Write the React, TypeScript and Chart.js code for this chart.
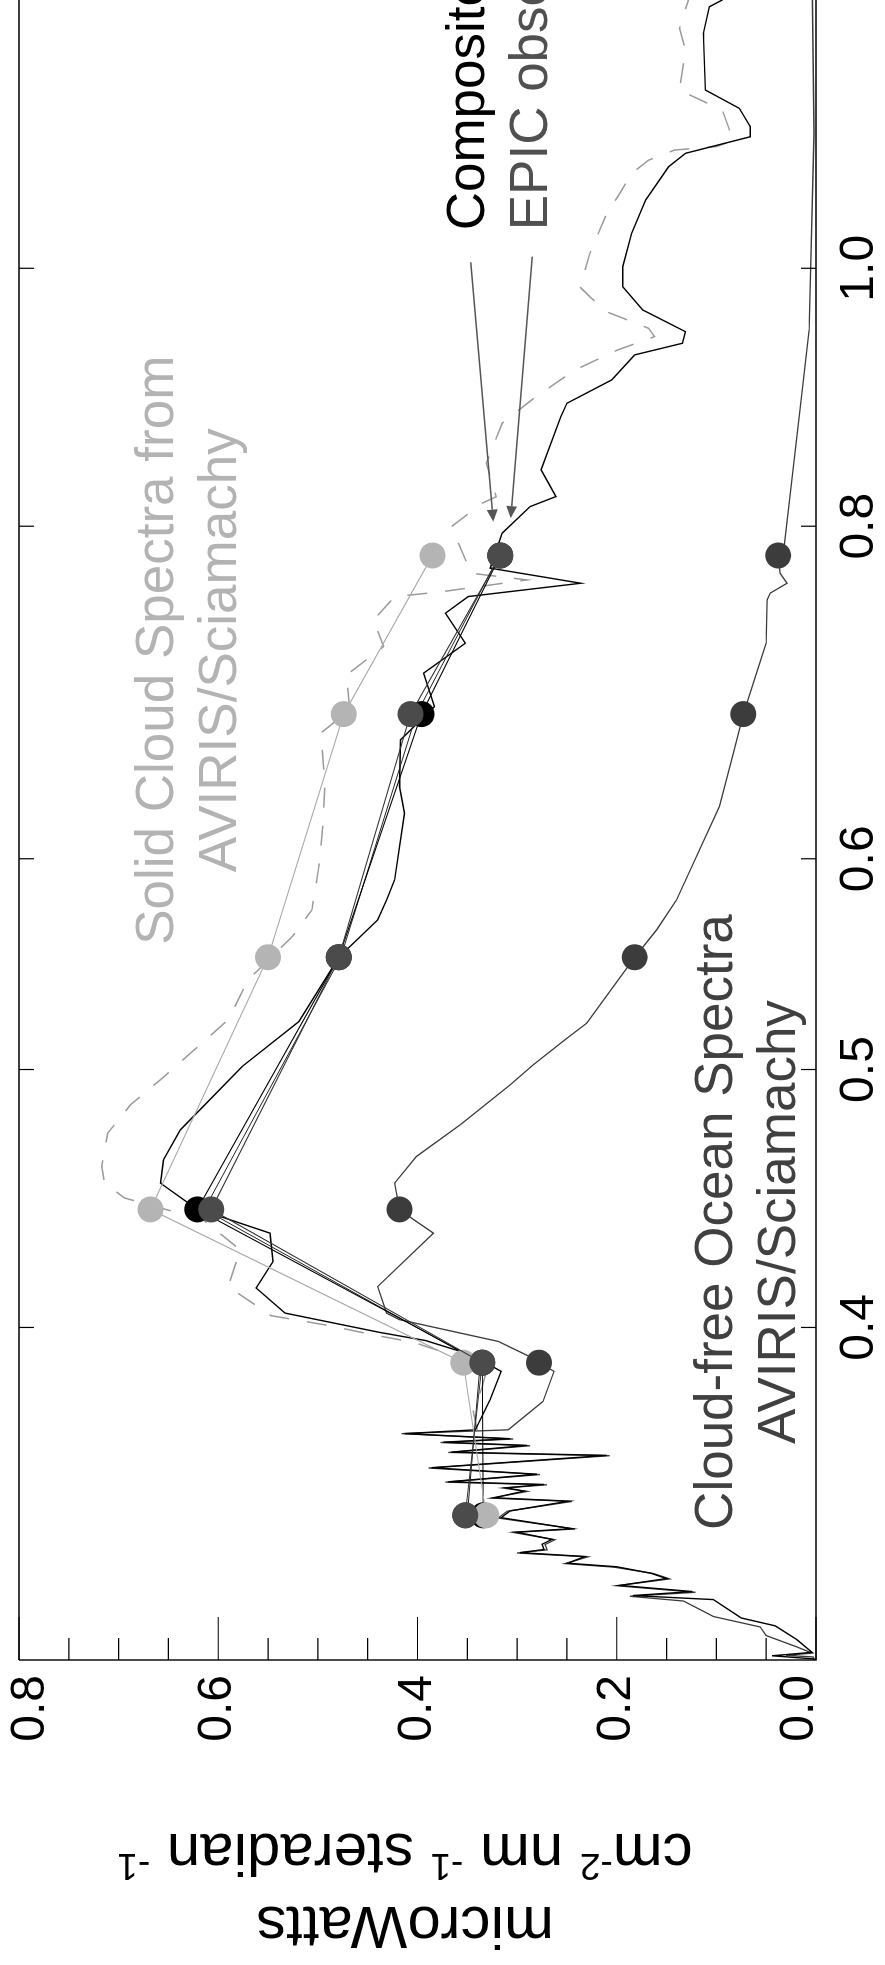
import React, { useEffect, useRef } from 'react';
import { Chart, registerables } from 'chart.js';

Chart.register(...registerables);

const FONT = "'Liberation Sans', Arial, Helvetica, sans-serif";

// ---------------- data ----------------
const wavelengthTicks = [0.4, 0.5, 0.6, 0.8, 1.0];
const radianceMajorTicks = [0, 0.2, 0.4, 0.6, 0.8];
const radianceMinorTicks = [0.05, 0.1, 0.15, 0.25, 0.3, 0.35, 0.45, 0.5, 0.55, 0.65, 0.7, 0.75];

// EPIC band centres (micrometres)
const epicBands = [0.34, 0.388, 0.443, 0.551, 0.68, 0.78];
const epicObsValues = [0.352, 0.335, 0.607, 0.479, 0.407, 0.317];
const compositeBandValues = [0.334, 0.335, 0.621, 0.479, 0.396, 0.317];
const epicObs2Values = [0.350, 0.337, 0.614, 0.477, 0.401, 0.318];
const oceanBandValues = [0.352, 0.278, 0.418, 0.182, 0.073, 0.038];
const cloudBandValues = [0.331, 0.354, 0.668, 0.550, 0.474, 0.385];

// high resolution spectra [wavelength, radiance]
const oceanSpectrum = [
  [0.3000, 0.001], [0.3008, 0.003], [0.3012, 0.030], [0.3018, 0.004], [0.3034, 0.019],
  [0.3064, 0.050], [0.3087, 0.056], [0.3115, 0.103], [0.3157, 0.133], [0.3170, 0.187],
  [0.3181, 0.121], [0.3199, 0.200], [0.3218, 0.147], [0.3233, 0.163], [0.3251, 0.203],
  [0.3261, 0.252], [0.3280, 0.229], [0.3291, 0.300], [0.3300, 0.270], [0.3315, 0.272],
  [0.3329, 0.262], [0.3350, 0.304], [0.3360, 0.242], [0.3392, 0.319], [0.3412, 0.310],
  [0.3441, 0.245], [0.3451, 0.326], [0.3471, 0.290], [0.3481, 0.314], [0.3491, 0.270],
  [0.3499, 0.372], [0.3522, 0.277], [0.3542, 0.389], [0.3580, 0.207], [0.3590, 0.369],
  [0.3611, 0.287], [0.3621, 0.377], [0.3632, 0.304], [0.3649, 0.416], [0.3661, 0.309],
  [0.3752, 0.274], [0.3851, 0.263], [0.3880, 0.278], [0.3903, 0.289], [0.3952, 0.319],
  [0.4027, 0.418], [0.4050, 0.431], [0.4144, 0.440], [0.4340, 0.384], [0.4428, 0.418],
  [0.4532, 0.423], [0.4638, 0.401], [0.4767, 0.357], [0.4934, 0.307], [0.5020, 0.284],
  [0.5130, 0.252], [0.5205, 0.230], [0.5510, 0.182], [0.5642, 0.160], [0.5790, 0.140],
  [0.6277, 0.097], [0.6574, 0.083], [0.6800, 0.073], [0.7230, 0.050], [0.7506, 0.049],
  [0.7550, 0.046], [0.7615, 0.029], [0.7680, 0.036], [0.7800, 0.038], [0.7860, 0.032],
  [0.8924, 0.015], [0.9480, 0.007], [1.1238, 0.002], [1.3000, 0.004],
];

const compositeSpectrum = [
  [0.3000, 0.001], [0.3003, 0.003], [0.3011, 0.044], [0.3020, 0.004], [0.3053, 0.019],
  [0.3090, 0.041], [0.3111, 0.075], [0.3161, 0.103], [0.3172, 0.184], [0.3183, 0.124],
  [0.3200, 0.197], [0.3219, 0.150], [0.3234, 0.166], [0.3252, 0.200], [0.3262, 0.249],
  [0.3281, 0.232], [0.3292, 0.297], [0.3301, 0.273], [0.3316, 0.275], [0.3330, 0.265],
  [0.3351, 0.301], [0.3361, 0.245], [0.3393, 0.316], [0.3413, 0.307], [0.3442, 0.248],
  [0.3452, 0.323], [0.3472, 0.293], [0.3482, 0.311], [0.3492, 0.273], [0.3500, 0.369],
  [0.3523, 0.280], [0.3543, 0.386], [0.3581, 0.210], [0.3591, 0.366], [0.3612, 0.290],
  [0.3622, 0.374], [0.3633, 0.307], [0.3649, 0.413], [0.3661, 0.342], [0.3758, 0.327],
  [0.3851, 0.316], [0.3862, 0.322], [0.3918, 0.357], [0.3955, 0.392], [0.3983, 0.438],
  [0.4050, 0.533], [0.4139, 0.562], [0.4235, 0.545], [0.4340, 0.548], [0.4403, 0.598],
  [0.4430, 0.621], [0.4532, 0.658], [0.4624, 0.655], [0.4746, 0.638], [0.5013, 0.576],
  [0.5212, 0.519], [0.5510, 0.479], [0.5691, 0.440], [0.5790, 0.431], [0.5892, 0.423],
  [0.6241, 0.413], [0.6387, 0.418], [0.6650, 0.417], [0.6844, 0.383], [0.7045, 0.394],
  [0.7230, 0.352], [0.7420, 0.372], [0.7528, 0.349], [0.7615, 0.236], [0.7715, 0.327],
  [0.7952, 0.315], [0.8137, 0.287], [0.8208, 0.261], [0.8400, 0.276], [0.8796, 0.256],
  [0.8898, 0.250], [0.9080, 0.205], [0.9278, 0.182], [0.9372, 0.134], [0.9466, 0.131],
  [0.9646, 0.174], [0.9842, 0.194], [1.0014, 0.194], [1.0307, 0.185], [1.0608, 0.171],
  [1.0918, 0.148], [1.1046, 0.131], [1.1205, 0.066], [1.1303, 0.066], [1.1484, 0.077],
  [1.1667, 0.111], [1.2254, 0.113], [1.2539, 0.107], [1.2613, 0.094], [1.3000, 0.090],
];

const cloudSpectrum = [
  [0.3661, 0.340], [0.3720, 0.344], [0.3800, 0.335], [0.3850, 0.331], [0.3903, 0.363],
  [0.3948, 0.403], [0.3975, 0.445], [0.4006, 0.488], [0.4041, 0.547], [0.4144, 0.590],
  [0.4278, 0.578], [0.4390, 0.615], [0.4474, 0.694], [0.4532, 0.714], [0.4598, 0.717],
  [0.4732, 0.711], [0.4850, 0.688], [0.4956, 0.658], [0.5086, 0.624], [0.5220, 0.590],
  [0.5403, 0.570], [0.5613, 0.525], [0.5740, 0.506], [0.5960, 0.499], [0.6170, 0.495],
  [0.6405, 0.493], [0.6689, 0.497], [0.6825, 0.468], [0.7035, 0.471], [0.7209, 0.434],
  [0.7377, 0.444], [0.7527, 0.423], [0.7560, 0.375], [0.7637, 0.290], [0.7681, 0.346],
  [0.7997, 0.366], [0.8161, 0.335], [0.8207, 0.321], [0.8448, 0.331], [0.8746, 0.315],
  [0.8949, 0.281], [0.9158, 0.242], [0.9318, 0.199], [0.9426, 0.162], [0.9494, 0.168],
  [0.9630, 0.210], [0.9757, 0.227], [0.9840, 0.237], [1.0130, 0.227], [1.0487, 0.210],
  [1.0639, 0.199], [1.0856, 0.185], [1.0981, 0.168], [1.1077, 0.142], [1.1110, 0.100],
  [1.1168, 0.083], [1.1466, 0.094], [1.1666, 0.137], [1.2076, 0.131], [1.2307, 0.137],
  [1.2613, 0.128], [1.3000, 0.125],
];

// annotations (anchored in data units: wavelength, radiance)
const annotationTexts = [
  { lines: ['Solid Cloud Spectra from', 'AVIRIS/Sciamachy'], wl: 0.7186, val: 0.6454, align: 'center', color: '#b3b3b3' },
  { lines: ['Cloud-free Ocean Spectra', 'AVIRIS/Sciamachy'], wl: 0.4382, val: 0.0843, align: 'center', color: '#404040' },
  { lines: ['Composite'], wl: 1.0334, val: 0.3333, align: 'left', color: '#000000' },
  { lines: ['EPIC observations'], wl: 1.0334, val: 0.270, align: 'left', color: '#505050' },
];
const arrows = [
  { from: [1.0052, 0.3466], to: [0.8032, 0.3239] },
  { from: [1.0101, 0.2848], to: [0.8056, 0.3065] },
];
const titleLine1 = [{ t: 'microWatts' }];
const titleLine2 = [
  { t: 'cm' }, { t: '-2', sup: true }, { t: ' nm ' }, { t: '-1', sup: true },
  { t: ' steradian ' }, { t: '-1', sup: true },
];

// ---------------- helpers ----------------
const toPoints = (pairs: number[][]) => pairs.map(([x, y]) => ({ x, y }));
const bandPoints = (vals: number[]) => epicBands.map((x, i) => ({ x, y: vals[i] }));

const CANVAS_W = 2040;
const CANVAS_H = 885;
const PAGE_W = 885;
const PAGE_H = 1965;

const framePlugin = {
  id: 'frameTicks',
  afterDraw(chart: any) {
    const { ctx, chartArea: a } = chart;
    const xs = chart.scales.x;
    const ys = chart.scales.y;
    ctx.save();
    ctx.strokeStyle = '#000';
    ctx.lineWidth = 1.4;
    ctx.beginPath();
    ctx.moveTo(a.left, a.top);
    ctx.lineTo(a.right, a.top);
    ctx.moveTo(a.left, a.top);
    ctx.lineTo(a.left, a.bottom);
    ctx.lineTo(a.right, a.bottom);
    ctx.stroke();
    ctx.lineWidth = 1.2;
    ctx.beginPath();
    wavelengthTicks.forEach((w) => {
      const px = xs.getPixelForValue(w);
      ctx.moveTo(px, a.bottom);
      ctx.lineTo(px, a.bottom - 15);
      ctx.moveTo(px, a.top);
      ctx.lineTo(px, a.top + 15);
    });
    radianceMajorTicks.forEach((v) => {
      const py = ys.getPixelForValue(v);
      ctx.moveTo(a.left, py);
      ctx.lineTo(a.left + 43, py);
    });
    radianceMinorTicks.forEach((v) => {
      const py = ys.getPixelForValue(v);
      ctx.moveTo(a.left, py);
      ctx.lineTo(a.left + 22, py);
    });
    ctx.stroke();
    ctx.restore();

    // y-axis title with superscripts (rotated like a standard y title)
    const cx = ys.getPixelForValue(0.4125);
    const drawLine = (segs: any[], baseU: number) => {
      const base = `60px ${FONT}`;
      const sup = `37px ${FONT}`;
      let total = 0;
      segs.forEach((s) => {
        ctx.font = s.sup ? sup : base;
        total += ctx.measureText(s.t).width;
      });
      ctx.save();
      ctx.translate(ys.left + baseU, cx);
      ctx.rotate(-Math.PI / 2);
      ctx.fillStyle = '#000';
      ctx.textAlign = 'left';
      ctx.textBaseline = 'alphabetic';
      let x = -total / 2;
      segs.forEach((s) => {
        ctx.font = s.sup ? sup : base;
        ctx.fillText(s.t, x, s.sup ? -20 : 0);
        x += ctx.measureText(s.t).width;
      });
      ctx.restore();
    };
    drawLine(titleLine1, 58);
    drawLine(titleLine2, 131);
  },
};

const annotationPlugin = {
  id: 'annotations',
  afterDatasetsDraw(chart: any) {
    const { ctx } = chart;
    const xs = chart.scales.x;
    const ys = chart.scales.y;
    ctx.save();
    ctx.font = `53px ${FONT}`;
    ctx.textBaseline = 'alphabetic';
    annotationTexts.forEach((a) => {
      const px = xs.getPixelForValue(a.wl);
      const py = ys.getPixelForValue(a.val);
      ctx.fillStyle = a.color;
      ctx.textAlign = a.align;
      a.lines.forEach((ln, i) => ctx.fillText(ln, px, py + i * 63));
    });
    ctx.strokeStyle = '#555';
    ctx.fillStyle = '#555';
    ctx.lineWidth = 1.5;
    arrows.forEach((ar) => {
      const x1 = xs.getPixelForValue(ar.from[0]);
      const y1 = ys.getPixelForValue(ar.from[1]);
      const x2 = xs.getPixelForValue(ar.to[0]);
      const y2 = ys.getPixelForValue(ar.to[1]);
      const ang = Math.atan2(y2 - y1, x2 - x1);
      const hl = 12;
      const hw = 5.5;
      const bx = x2 - hl * Math.cos(ang);
      const by = y2 - hl * Math.sin(ang);
      ctx.beginPath();
      ctx.moveTo(x1, y1);
      ctx.lineTo(bx, by);
      ctx.stroke();
      ctx.beginPath();
      ctx.moveTo(x2, y2);
      ctx.lineTo(bx + hw * Math.sin(ang), by - hw * Math.cos(ang));
      ctx.lineTo(bx - hw * Math.sin(ang), by + hw * Math.cos(ang));
      ctx.closePath();
      ctx.fill();
    });
    ctx.restore();
  },
};

const edgeLabelPlugin = {
  id: 'edgeLabels',
  beforeDraw(chart: any) {
    const s = chart.scales.y;
    if (!s || !s.getLabelItems) return;
    const items = s.getLabelItems();
    (items || []).forEach((it: any) => {
      if (it._shifted || !it.options || !it.options.translation) return;
      if (it.label === '0.8') it.options.translation[1] += 12;
      if (it.label === '0.0') it.options.translation[1] -= 16;
      it._shifted = true;
    });
  },
};

export default function App() {
  const ref = useRef<HTMLCanvasElement | null>(null);

  useEffect(() => {
    if (!ref.current) return;
    const dotSet = (label: string, vals: number[], fill: string, line: string, lw: number, showLine: boolean, r = 13) => ({
      label,
      data: bandPoints(vals),
      showLine,
      borderColor: line,
      borderWidth: lw,
      pointRadius: r,
      pointBackgroundColor: fill,
      pointBorderColor: fill,
      pointBorderWidth: 0,
      tension: 0,
      fill: false,
    });
    const lineSet = (label: string, pairs: number[][], color: string, lw: number, dash: number[] = []) => ({
      label,
      data: toPoints(pairs),
      borderColor: color,
      borderWidth: lw,
      borderDash: dash,
      pointRadius: 0,
      tension: 0,
      fill: false,
    });

    const chart = new Chart(ref.current, {
      type: 'line',
      data: {
        datasets: [
          dotSet('EPIC observations', epicObsValues, '#4b4b4b', '#333333', 1.1, true),
          dotSet('Cloud (bands)', cloudBandValues, '#b4b4b4', '#a8a8a8', 1.2, true),
          dotSet('Composite (bands)', compositeBandValues, '#000000', '#000000', 1.1, true),
          dotSet('EPIC observations 2', epicObs2Values, '#222222', '#222222', 1.0, true, 0),
          dotSet('Ocean (bands)', oceanBandValues, '#3c3c3c', '#3c3c3c', 0, false),
          lineSet('Composite spectrum', compositeSpectrum, '#000000', 1.4),
          lineSet('Cloud-free ocean spectrum', oceanSpectrum, '#3a3a3a', 1.3),
          lineSet('Solid cloud spectrum', cloudSpectrum, '#9a9a9a', 1.5, [20, 18]),
        ] as any,
      },
      options: {
        animation: false,
        responsive: false,
        devicePixelRatio: 1,
        events: [],
        layout: { padding: { left: 0, top: 19, right: 40, bottom: 0 } },
        plugins: {
          legend: { display: false },
          tooltip: { enabled: false },
          title: { display: false },
        },
        scales: {
          x: {
            type: 'logarithmic',
            position: 'bottom',
            min: 0.3,
            max: 1.3,
            grid: { display: false, drawTicks: false },
            border: { display: false },
            ticks: {
              autoSkip: false,
              maxRotation: 0,
              minRotation: 0,
              padding: 15,
              color: '#000',
              font: { family: FONT, size: 48 },
              callback: (v: any) => Number(v).toFixed(1),
            },
            afterBuildTicks: (s: any) => {
              s.ticks = wavelengthTicks.map((v) => ({ value: v }));
            },
            afterFit: (s: any) => {
              s.height = 69;
              s.paddingLeft = 0;
              s.paddingRight = 0;
            },
          },
          y: {
            type: 'linear',
            position: 'left',
            min: 0,
            max: 0.8,
            grid: { display: false, drawTicks: false },
            border: { display: false },
            ticks: {
              stepSize: 0.2,
              padding: 15,
              color: '#000',
              font: { family: FONT, size: 48 },
              callback: (v: any) => Number(v).toFixed(1),
            },
            afterFit: (s: any) => {
              s.width = 305;
              s.paddingTop = 0;
              s.paddingBottom = 0;
            },
          },
        },
      } as any,
      plugins: [edgeLabelPlugin, annotationPlugin, framePlugin],
    });
    return () => chart.destroy();
  }, []);

  return (
    <div
      style={{
        position: 'absolute',
        left: 0,
        top: 0,
        width: PAGE_W,
        height: PAGE_H,
        overflow: 'hidden',
        background: '#ffffff',
      }}
    >
      <canvas
        ref={ref}
        width={CANVAS_W}
        height={CANVAS_H}
        style={{
          position: 'absolute',
          left: 0,
          top: 0,
          width: CANVAS_W + 'px',
          height: CANVAS_H + 'px',
          transformOrigin: '0 0',
          transform: `translate(0px, ${PAGE_H}px) rotate(-90deg)`,
        }}
      />
    </div>
  );
}
